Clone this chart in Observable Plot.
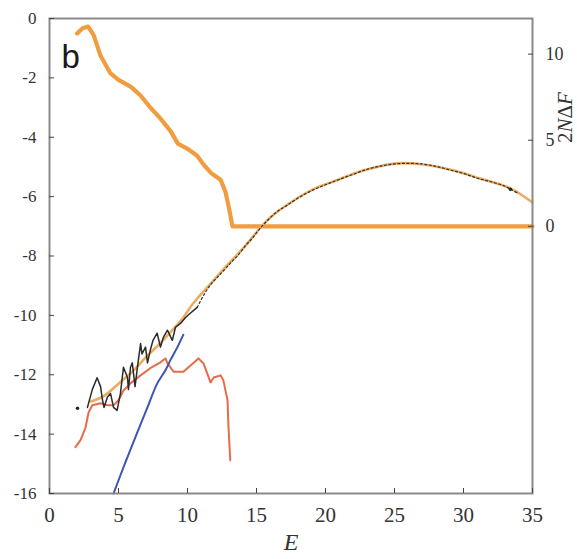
<!DOCTYPE html>
<html><head><meta charset="utf-8">
<script src="https://cdn.jsdelivr.net/npm/d3@7"></script>
<script src="https://cdn.jsdelivr.net/npm/@observablehq/plot@0.6"></script>
<style>
body{margin:0;background:#fff;}
</style>
</head><body><div id="chart"></div>
<script>
// ---- data ----
// thick orange curve, right axis (2NΔF)
const orangeE  = [2.0, 2.4, 2.8, 3.2, 3.7, 4.4, 5.0, 5.9, 6.6, 7.3, 8.0, 8.8, 9.3, 10.0, 10.7, 11.2, 11.7, 12.4, 12.75, 12.97, 13.26, 35];
const orangeDF = [11.2, 11.5, 11.6, 11.1, 9.9, 8.9, 8.5, 8.1, 7.6, 6.9, 6.3, 5.5, 4.8, 4.5, 4.1, 3.55, 3.1, 2.7, 2.0, 1.2, 0, 0];

// smooth tan curve (left axis)
const tanE = [3.0, 4.0, 5.0, 6.0, 7.0, 8.0, 9.0, 9.7, 10.4, 11.7, 12.9, 14.1, 15.3, 16.0, 17.7, 19.4, 20.4, 22.75, 25.2, 27.1, 29.3, 31.2, 33.4, 35.0];
const tanV = [-12.9, -12.7, -12.3, -11.9, -11.4, -10.95, -10.45, -10.07, -9.6, -8.92, -8.3, -7.71, -7.04, -6.70, -6.13, -5.69, -5.52, -5.12, -4.88, -4.92, -5.12, -5.39, -5.72, -6.2];

// noisy black curve, low part
const blackLowE = [2.75, 3.1, 3.45, 3.7, 3.84, 3.95, 4.2, 4.42, 4.64, 4.9, 5.14, 5.36, 5.65, 5.72, 5.87, 6.0, 6.2, 6.37, 6.6, 6.7, 6.96, 7.1, 7.3, 7.5, 7.8, 8.04, 8.26, 8.55, 8.9, 9.13, 9.49, 9.86, 10.2, 10.7];
const blackLowV = [-13.1, -12.5, -12.1, -12.4, -12.85, -13.1, -12.75, -12.63, -13.1, -13.2, -12.63, -11.75, -12.09, -12.5, -11.75, -11.6, -12.4, -11.75, -10.95, -11.3, -11.07, -11.6, -11.18, -10.84, -10.6, -11.07, -10.73, -10.5, -10.84, -10.4, -10.27, -10.07, -9.93, -9.73];
// black curve, high part
const blackHighE = [10.7, 11.2, 11.7, 12.2, 12.7, 13.2, 13.7, 14.2, 14.7, 15.2, 15.8, 16.5, 17.2, 18, 19, 20, 21, 22, 23, 24, 25, 26, 27, 28, 29, 30, 31, 32, 33, 33.4, 34];
const blackHighV = [-9.73, -9.3, -8.95, -8.7, -8.45, -8.2, -7.95, -7.65, -7.4, -7.1, -6.8, -6.5, -6.3, -6.05, -5.8, -5.6, -5.42, -5.25, -5.08, -4.97, -4.9, -4.88, -4.9, -4.98, -5.1, -5.22, -5.38, -5.5, -5.65, -5.75, -5.9];
// isolated black dots
const dotE = [2.03, 33.4];
const dotV = [-13.13, -5.75];

// red curve
const redE = [1.88, 2.25, 2.6, 2.83, 3.1, 3.7, 4.2, 4.64, 5.0, 5.36, 5.87, 6.6, 7.3, 8.04, 8.4, 8.55, 9.0, 9.7, 10.2, 10.8, 11.16, 11.67, 11.9, 12.4, 12.6, 12.9, 12.97, 13.1];
const redV = [-14.44, -14.2, -13.8, -13.27, -13.03, -12.96, -13.03, -13.03, -12.86, -12.53, -12.29, -12.02, -11.78, -11.58, -11.45, -11.62, -11.9, -11.9, -11.7, -11.45, -11.62, -12.26, -12.09, -12.02, -12.19, -12.86, -13.77, -14.88];

// blue curve
const blueE = [4.64, 5.5, 6.4, 7.1, 7.8, 8.4, 8.77, 9.27, 9.7];
const blueV = [-16, -14.95, -13.9, -13.1, -12.3, -11.85, -11.5, -11.07, -10.65];

// ticks
const xTicks = [0, 5, 10, 15, 20, 25, 30, 35];
const yTicks = [0, -2, -4, -6, -8, -10, -12, -14, -16];
const rTicks = [0, 5, 10];

// right axis mapping: 2NΔF -> left axis units
const R0 = -7, RK = 0.58;
const toLeft = r => R0 + RK * r;
const fromLeft = v => (v - R0) / RK;

const zip = (xs, ys) => xs.map((x, i) => ({x, y: ys[i]}));
const orange = orangeE.map((x, i) => ({x, y: toLeft(orangeDF[i])}));
const serif = "'Liberation Serif', 'DejaVu Serif', serif";

const chart = Plot.plot({
  width: 577, height: 559,
  marginLeft: 49, marginRight: 45, marginTop: 18, marginBottom: 66,
  style: {fontFamily: serif, background: "#fff", color: "#333"},
  x: {domain: [0, 35]},
  y: {domain: [-16, 0]},
  marks: [
    Plot.line(orange, {x: "x", y: "y", stroke: "#ef9d3e", strokeWidth: 4.2}),
    Plot.line(zip(tanE, tanV), {x: "x", y: "y", stroke: "#e9ad62", strokeWidth: 2.6, curve: "catmull-rom"}),
    Plot.line(zip(redE, redV), {x: "x", y: "y", stroke: "#ea6a48", strokeWidth: 2}),
    Plot.line(zip(blueE, blueV), {x: "x", y: "y", stroke: "#3d55b0", strokeWidth: 2, curve: "catmull-rom"}),
    Plot.line(zip(blackLowE, blackLowV), {x: "x", y: "y", stroke: "#2a2a2a", strokeWidth: 1.5}),
    Plot.line(zip(blackHighE, blackHighV), {x: "x", y: "y", stroke: "#3a3026", strokeWidth: 1.2, strokeDasharray: "2,2.5", curve: "catmull-rom"}),
    Plot.dot(zip(dotE, dotV), {x: "x", y: "y", r: 1.7, fill: "#222", stroke: null}),
    Plot.frame({stroke: "#8a8a8a", strokeWidth: 2}),
    Plot.axisY({anchor: "left", ticks: yTicks, tickSize: -5, tickPadding: 18, tickFormat: d => String(d), fontSize: 17, fontFamily: serif, label: null, stroke: "#444"}),
    Plot.axisX({anchor: "bottom", ticks: xTicks, tickSize: -5, tickPadding: 19, tickFormat: d => String(d), fontSize: 21, fontFamily: serif, label: "E", labelAnchor: "center", labelArrow: "none", labelOffset: 56, stroke: "#444"}),
    Plot.axisY({anchor: "right", ticks: rTicks.map(toLeft), tickSize: -5, tickPadding: 18, tickFormat: d => String(Math.round(fromLeft(d))), fontSize: 18, fontFamily: serif, label: null, stroke: "#444"}),
    Plot.text(["b"], {frameAnchor: "top-left", dx: 12, dy: 39, text: d => d, fontSize: 33, fontFamily: "'Liberation Sans', 'DejaVu Sans', sans-serif", fill: "#1a1a1a", textAnchor: "start", lineAnchor: "middle"}),
    Plot.text(["2NΔF"], {frameAnchor: "top-right", dx: 33, dy: 99, text: d => d, fontSize: 21, fontFamily: serif, rotate: -90, fill: "#333", textAnchor: "middle", lineAnchor: "middle"})
  ]
});
document.getElementById("chart").appendChild(chart);

// italic axis label E, italic N and F in 2NΔF
const svg = d3.select(chart);
svg.selectAll("g[aria-label='x-axis label'] text").style("font-style", "italic").style("font-family", serif).attr("font-size", 24);
svg.selectAll("text").each(function() {
  const t = d3.select(this);
  if (t.text() === "2NΔF") {
    t.text(null);
    t.append("tspan").text("2");
    t.append("tspan").style("font-style", "italic").text("N");
    t.append("tspan").text("Δ");
    t.append("tspan").style("font-style", "italic").text("F");
  }
});
</script>
</body></html>
